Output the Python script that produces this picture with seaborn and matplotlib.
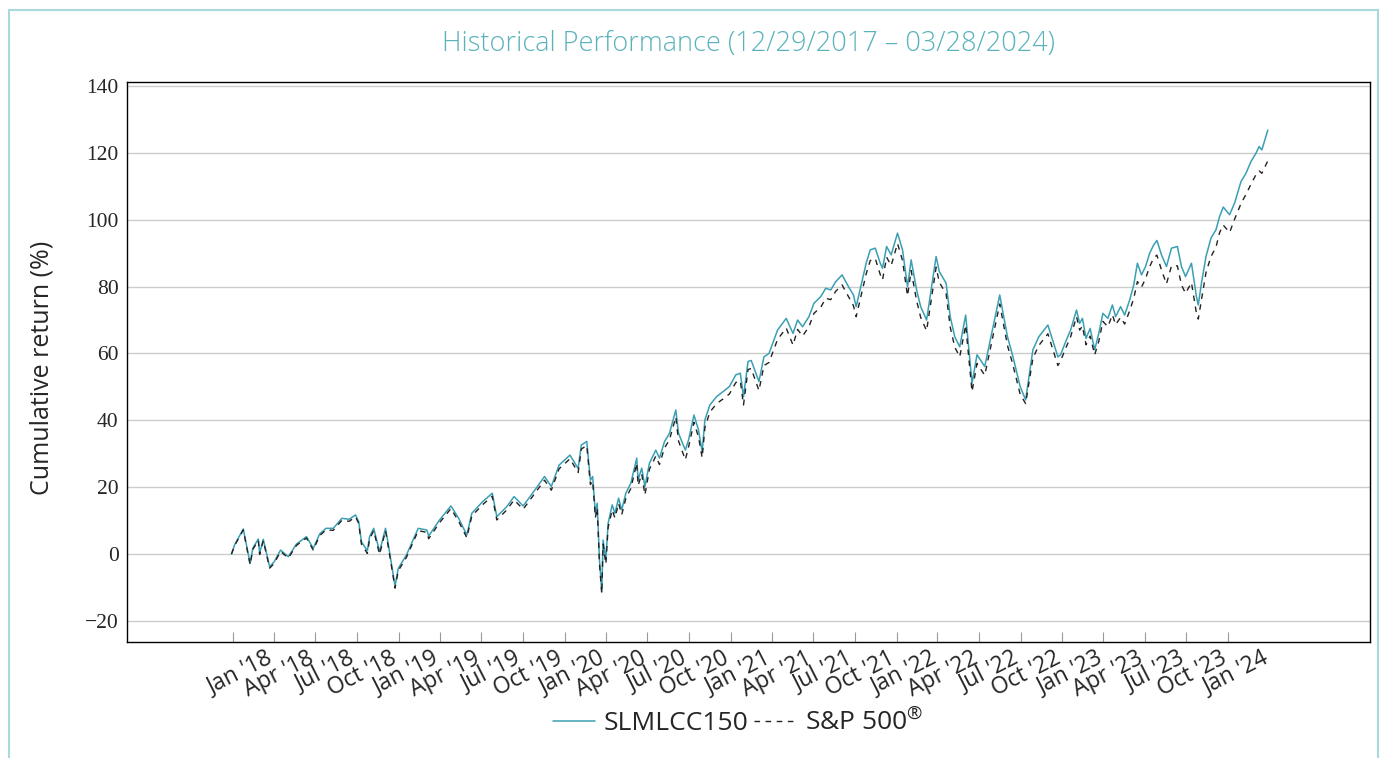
import matplotlib
matplotlib.use("Agg")
import matplotlib.pyplot as plt
from matplotlib.lines import Line2D
from matplotlib.patches import Rectangle
import numpy as np
import pandas as pd
import seaborn as sns

# values (cumulative return, %)
dates = [
    # 2018
    "2017-12-29", "2018-01-05", "2018-01-24", "2018-02-08", "2018-02-14", "2018-02-26",
    "2018-03-01", "2018-03-09", "2018-03-23", "2018-04-02", "2018-04-16", "2018-05-03",
    "2018-05-21", "2018-06-12", "2018-06-27", "2018-07-11", "2018-07-25", "2018-08-10",
    "2018-08-29", "2018-09-14", "2018-09-28", "2018-10-05", "2018-10-11", "2018-10-24",
    "2018-10-29", "2018-11-07", "2018-11-20", "2018-12-03", "2018-12-10", "2018-12-24",
    # 2019
    "2018-12-31", "2019-01-18", "2019-02-13", "2019-03-04", "2019-03-08", "2019-04-01",
    "2019-04-26", "2019-05-13", "2019-05-31", "2019-06-11", "2019-07-05", "2019-07-26",
    "2019-08-05", "2019-08-27", "2019-09-12", "2019-10-02", "2019-10-28", "2019-11-18",
    "2019-12-03", "2019-12-20",
    # 2020
    "2020-01-13", "2020-01-31", "2020-02-07", "2020-02-19", "2020-02-27", "2020-03-03",
    "2020-03-09", "2020-03-13", "2020-03-18", "2020-03-23", "2020-03-26", "2020-04-01",
    "2020-04-06", "2020-04-15", "2020-04-21", "2020-04-29", "2020-05-06", "2020-05-15",
    "2020-05-26", "2020-06-08", "2020-06-11", "2020-06-19", "2020-06-26", "2020-07-06",
    "2020-07-20", "2020-07-28", "2020-08-08", "2020-08-19", "2020-09-02", "2020-09-08",
    "2020-09-23", "2020-09-30", "2020-10-12", "2020-10-22", "2020-10-30", "2020-11-05",
    "2020-11-16", "2020-12-01", "2020-12-15", "2020-12-29",
    # 2021
    "2021-01-12", "2021-01-22", "2021-01-29", "2021-02-08", "2021-02-15", "2021-03-04",
    "2021-03-15", "2021-03-26", "2021-04-14", "2021-05-03", "2021-05-18", "2021-05-28",
    "2021-06-08", "2021-06-22", "2021-07-03", "2021-07-18", "2021-07-29", "2021-08-09",
    "2021-08-20", "2021-09-03", "2021-09-17", "2021-09-28", "2021-10-04", "2021-10-15",
    "2021-10-26", "2021-11-04", "2021-11-15", "2021-11-26", "2021-12-01", "2021-12-10",
    "2021-12-20",
    # 2022
    "2022-01-03", "2022-01-14", "2022-01-25", "2022-02-02", "2022-02-14", "2022-02-23",
    "2022-03-08", "2022-03-29", "2022-04-05", "2022-04-20", "2022-04-29", "2022-05-09",
    "2022-05-20", "2022-06-02", "2022-06-16", "2022-06-27", "2022-07-14", "2022-08-16",
    "2022-09-02", "2022-09-13", "2022-09-30", "2022-10-12", "2022-10-28", "2022-11-10",
    "2022-11-30", "2022-12-22", "2022-12-28",
    # 2023
    "2023-01-08", "2023-01-19", "2023-02-01", "2023-02-08", "2023-02-14", "2023-02-22",
    "2023-03-03", "2023-03-13", "2023-03-22", "2023-03-31", "2023-04-11", "2023-04-21",
    "2023-04-28", "2023-05-09", "2023-05-18", "2023-05-29", "2023-06-07", "2023-06-15",
    "2023-06-24", "2023-07-03", "2023-07-12", "2023-07-21", "2023-07-28", "2023-08-07",
    "2023-08-18", "2023-08-29", "2023-09-11", "2023-09-20", "2023-09-29", "2023-10-12",
    "2023-10-23", "2023-10-27", "2023-11-03", "2023-11-13", "2023-11-24", "2023-12-05",
    "2023-12-13", "2023-12-21",
    # 2024
    "2024-01-04", "2024-01-15", "2024-01-29", "2024-02-09", "2024-02-20", "2024-03-02",
    "2024-03-09", "2024-03-15", "2024-03-28",
]

slmlcc150 = [
    # 2018
    0.0, 2.8, 7.5, -2.8, 1.8, 4.5,
    0.3, 4.4, -3.8, -2.3, 1.2, -0.8,
    3.0, 5.2, 1.7, 6.0, 7.7, 7.7,
    10.7, 10.4, 11.7, 9.7, 3.7, 1.0,
    5.2, 7.7, 0.7, 7.7, 2.2, -9.6,
    # 2019
    -4.3, -0.3, 7.7, 7.2, 5.4, 10.2,
    14.4, 10.7, 5.7, 12.2, 15.7, 18.2,
    11.2, 14.2, 17.2, 14.4, 19.2, 23.2,
    20.2, 26.6,
    # 2020
    29.6, 25.6, 32.6, 33.7, 22.1, 23.2,
    12.2, 15.2, -1.8, -11.2, 4.2, -1.8,
    9.2, 14.7, 12.2, 16.7, 13.2, 18.2,
    21.2, 28.7, 22.2, 25.7, 20.2, 27.2,
    31.1, 28.7, 33.6, 36.1, 43.1, 36.1,
    31.1, 34.1, 41.6, 37.1, 30.6, 40.1,
    44.6, 47.1, 48.6, 50.1,
    # 2021
    53.6, 54.1, 47.1, 57.6, 57.9, 51.6,
    59.0, 60.0, 67.0, 70.5, 66.0, 70.0,
    68.0, 71.0, 75.0, 77.0, 79.5, 79.0,
    81.5, 83.5, 80.0, 77.5, 74.0, 80.5,
    87.0, 91.0, 91.5, 87.0, 85.5, 92.0,
    89.5,
    # 2022
    96.0, 91.0, 80.0, 88.0, 79.0, 74.0,
    70.0, 89.0, 84.5, 81.0, 71.0, 65.0,
    62.0, 71.5, 51.1, 59.6, 56.1, 77.5,
    65.0, 59.6, 50.1, 46.1, 61.1, 65.0,
    68.5, 59.0, 59.6,
    # 2023
    63.5, 67.0, 73.0, 69.0, 70.5, 64.5,
    67.5, 61.1, 66.0, 72.0, 70.5, 74.5,
    71.0, 74.0, 71.5, 76.0, 80.5, 87.0,
    83.5, 86.0, 90.0, 92.5, 93.8, 89.5,
    86.0, 91.5, 92.0, 86.0, 83.0, 87.0,
    77.0, 74.5, 81.0, 89.0, 94.5, 97.0,
    101.0, 103.8,
    # 2024
    101.5, 105.0, 111.4, 113.9, 117.4, 119.9,
    121.9, 120.9, 126.8,
]

sp500 = [
    # 2018
    0.0, 2.6, 7.2, -3.2, 1.4, 4.1,
    -0.1, 4.0, -4.2, -2.8, 0.8, -1.2,
    2.6, 4.8, 1.2, 5.5, 7.2, 7.1,
    10.1, 9.8, 11.1, 9.2, 3.0, 0.2,
    4.5, 7.0, -0.1, 7.0, 1.5, -10.2,
    # 2019
    -5.0, -1.0, 7.0, 6.5, 4.6, 9.4,
    13.6, 9.8, 4.9, 11.4, 14.8, 17.3,
    10.2, 13.2, 16.2, 13.4, 18.2, 22.1,
    19.1, 25.5,
    # 2020
    28.5, 24.4, 31.4, 32.5, 20.8, 21.9,
    10.9, 13.8, -3.0, -11.8, 3.0, -3.0,
    8.0, 13.2, 10.8, 15.2, 11.8, 16.7,
    19.6, 27.2, 20.5, 24.0, 17.7, 25.4,
    29.3, 26.8, 31.7, 34.2, 41.0, 33.8,
    28.2, 32.0, 39.4, 35.0, 28.8, 37.8,
    42.5, 45.0, 46.4, 47.9,
    # 2021
    51.3, 51.8, 44.6, 55.2, 55.5, 48.9,
    56.4, 57.3, 64.2, 67.6, 62.5, 67.2,
    65.2, 68.0, 72.0, 73.8, 76.5, 76.1,
    78.6, 80.5, 77.0, 74.3, 71.0, 77.4,
    83.8, 87.8, 88.4, 83.6, 82.0, 88.8,
    86.3,
    # 2022
    92.9, 87.8, 77.2, 84.8, 75.8, 70.8,
    66.8, 85.8, 81.3, 77.8, 67.9, 61.9,
    59.0, 68.5, 48.6, 57.0, 53.5, 74.8,
    62.4, 57.1, 47.8, 45.0, 58.6, 62.4,
    65.9, 56.4, 57.8,
    # 2023
    61.5, 65.0, 71.0, 67.0, 68.2, 62.6,
    65.2, 59.6, 63.6, 69.6, 68.0, 71.6,
    68.6, 70.8, 68.8, 72.8, 76.5, 81.5,
    79.8, 82.4, 86.0, 88.6, 89.4, 85.0,
    80.8, 86.2, 86.2, 80.5, 78.0, 81.2,
    72.0, 70.3, 76.0, 84.2, 89.0, 91.8,
    96.2, 98.4,
    # 2024
    96.2, 100.2, 104.8, 107.6, 110.6, 113.5,
    114.6, 113.9, 117.6,
]

series_names = ["SLMLCC150", "S&P 500$^{\\mathrm{\u00ae}}$"]
title = "Historical Performance (12/29/2017 \u2013 03/28/2024)"

teal = "#3a9fb3"
dark = "#222222"
title_color = "#5ab3bb"
dash = (0, (4, 4))

df = pd.DataFrame({"date": pd.to_datetime(dates),
                   "slmlcc150": slmlcc150,
                   "sp500": sp500})

sns.set_theme(style="white")
plt.rcParams["font.family"] = ["Open Sans", "DejaVu Sans"]
plt.rcParams["mathtext.fontset"] = "custom"
plt.rcParams["mathtext.rm"] = "Open Sans"

fig = plt.figure(figsize=(13.87, 7.58), dpi=100)
ax = fig.add_axes([127 / 1387, 1 - 642 / 758, (1370 - 127) / 1387, (642 - 82) / 758])

sns.lineplot(data=df, x="date", y="slmlcc150", ax=ax, color=teal,
             linewidth=1.1, zorder=3)
sns.lineplot(data=df, x="date", y="sp500", ax=ax, color=dark,
             linewidth=1.0, linestyle=dash, zorder=4)

ax.set_ylim(-26.3, 141.2)
ax.set_xlim(pd.Timestamp("2017-05-13"), pd.Timestamp("2024-11-08"))
ax.set_yticks(np.arange(-20, 141, 20))
ax.yaxis.grid(True, color="#cccccc", linewidth=1)
ax.xaxis.grid(False)

# quarterly tick marks; the reference prints each label about 97 days right of its tick,
# so the labels go on unmarked minor ticks at that spot
xt = pd.date_range("2018-01-01", "2024-01-01", freq="QS")
ax.set_xticks(xt)
ax.set_xticklabels([])
ax.set_xticks(xt + pd.Timedelta(days=97), minor=True)
ax.set_xticklabels([f"{d.strftime('%b')} '{d.strftime('%y')}" for d in xt], minor=True,
                   rotation=27, ha="right", va="top", fontsize=16.5)

ax.tick_params(axis="x", which="major", direction="in", length=7, width=0.8,
               color="#999999", bottom=True)
ax.tick_params(axis="x", which="minor", length=0, pad=3, bottom=True)
ax.tick_params(axis="y", length=0, pad=6)
for lab in ax.get_yticklabels():
    lab.set_fontfamily("Liberation Serif")
    lab.set_fontsize(15.5)

for sp in ax.spines.values():
    sp.set_color("black")
    sp.set_linewidth(1.0)

ax.set_xlabel("")
ax.set_ylabel("Cumulative return (%)", fontsize=18)
ax.yaxis.set_label_coords(-0.058, 0.49)

fig.text(748.5 / 1387, 1 - 44 / 758, title, ha="center", va="center",
         fontsize=19.5, color=title_color, fontweight="light")

handles = [Line2D([], [], color=teal, linewidth=1.1),
           Line2D([], [], color=dark, linewidth=1.0, linestyle=dash)]
fig.legend(handles, series_names, loc="center", bbox_to_anchor=(738 / 1387, 1 - 722 / 758),
           ncol=2, frameon=False, fontsize=19, handlelength=1.6, handletextpad=0.3,
           columnspacing=0.25)

fig.patches.append(Rectangle((9 / 1387, -0.05), (1378 - 9) / 1387, 1.05 - 10 / 758,
                             transform=fig.transFigure, fill=False,
                             edgecolor="#a9d9dc", linewidth=1.5))

fig.savefig("out.png", dpi=100)
